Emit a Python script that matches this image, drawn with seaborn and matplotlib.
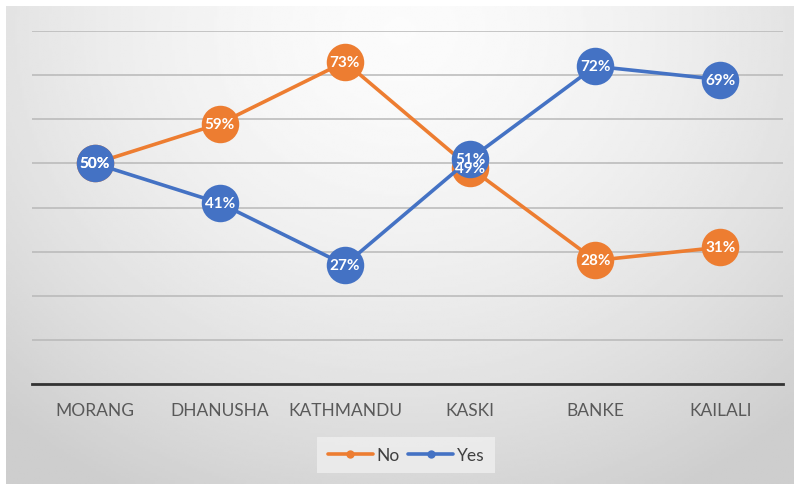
import numpy as np
import pandas as pd
import matplotlib
matplotlib.use("Agg")
import matplotlib.pyplot as plt
import seaborn as sns

# --- Data ---
districts = ['MORANG', 'DHANUSHA', 'KATHMANDU', 'KASKI', 'BANKE', 'KAILALI']
no_pct = [50, 59, 73, 49, 28, 31]
yes_pct = [50, 41, 27, 51, 72, 69]
series_names = ['No', 'Yes']
colors = {'No': '#ED7D31', 'Yes': '#4472C4'}

df = pd.concat([
    pd.DataFrame({'district': districts, 'value': no_pct, 'series': 'No'}),
    pd.DataFrame({'district': districts, 'value': yes_pct, 'series': 'Yes'}),
], ignore_index=True)

sns.set_theme(style="white")
plt.rcParams['font.family'] = ['Lato', 'DejaVu Sans']

fig = plt.figure(figsize=(7.94, 4.85), dpi=100)
fig.patch.set_facecolor('white')

# gradient chart background (white margin at top/left)
bg = fig.add_axes([6 / 794, 0, 788 / 794, 478 / 485], zorder=0)
yy, xx = np.mgrid[0:1:200j, 0:1:320j]
r = np.sqrt(((xx - 0.5) / 0.75) ** 2 + ((yy - 0.05) / 1.1) ** 2)
shade = 0.985 - 0.18 * np.clip(r, 0, 1) ** 1.6
bg.imshow(shade, cmap='gray', vmin=0, vmax=1, aspect='auto', extent=(0, 1, 1, 0))
bg.set_axis_off()

ax = fig.add_axes([32 / 794, 100 / 485, 751 / 794, 353 / 485], zorder=1)
ax.patch.set_alpha(0)

sns.lineplot(data=df, x='district', y='value', hue='series', hue_order=series_names,
             palette=colors, marker='o', markersize=27, markeredgewidth=0,
             linewidth=2.6, sort=False, ax=ax)

for name, vals in zip(series_names, [no_pct, yes_pct]):
    for i, v in enumerate(vals):
        ax.text(i, v, f"{v}%", color='white', fontsize=11, fontweight='bold',
                ha='center', va='center', zorder=10)

ax.set_xlim(-0.5, len(districts) - 0.5)
ax.set_ylim(0, 80)
ax.set_yticks(range(0, 81, 10))
ax.set_yticklabels([])
ax.tick_params(axis='y', length=0)
ax.tick_params(axis='x', length=0, pad=13, labelsize=12.5, labelcolor='#595959')
ax.yaxis.grid(True, color='#b8b8b8', linewidth=1.1)
ax.set_axisbelow(True)
for s in ['top', 'right', 'left']:
    ax.spines[s].set_visible(False)
ax.spines['bottom'].set_color('#333333')
ax.spines['bottom'].set_linewidth(2)
ax.set_xlabel('')
ax.set_ylabel('')

handles, labels = ax.get_legend_handles_labels()
leg = ax.legend(handles, labels, loc='center', bbox_to_anchor=(406 / 794, 29 / 485),
                bbox_transform=fig.transFigure, ncol=2, frameon=True, fontsize=12.5,
                handlelength=2.6, columnspacing=0.5, handletextpad=0.2,
                borderpad=0.6, fancybox=False)
leg.get_frame().set_facecolor('#efefef')
leg.get_frame().set_edgecolor('none')
for line in leg.get_lines():
    line.set_markersize(6)
    line.set_linewidth(2.6)
for t in leg.get_texts():
    t.set_color('#404040')

fig.savefig('out.png', dpi=100)
